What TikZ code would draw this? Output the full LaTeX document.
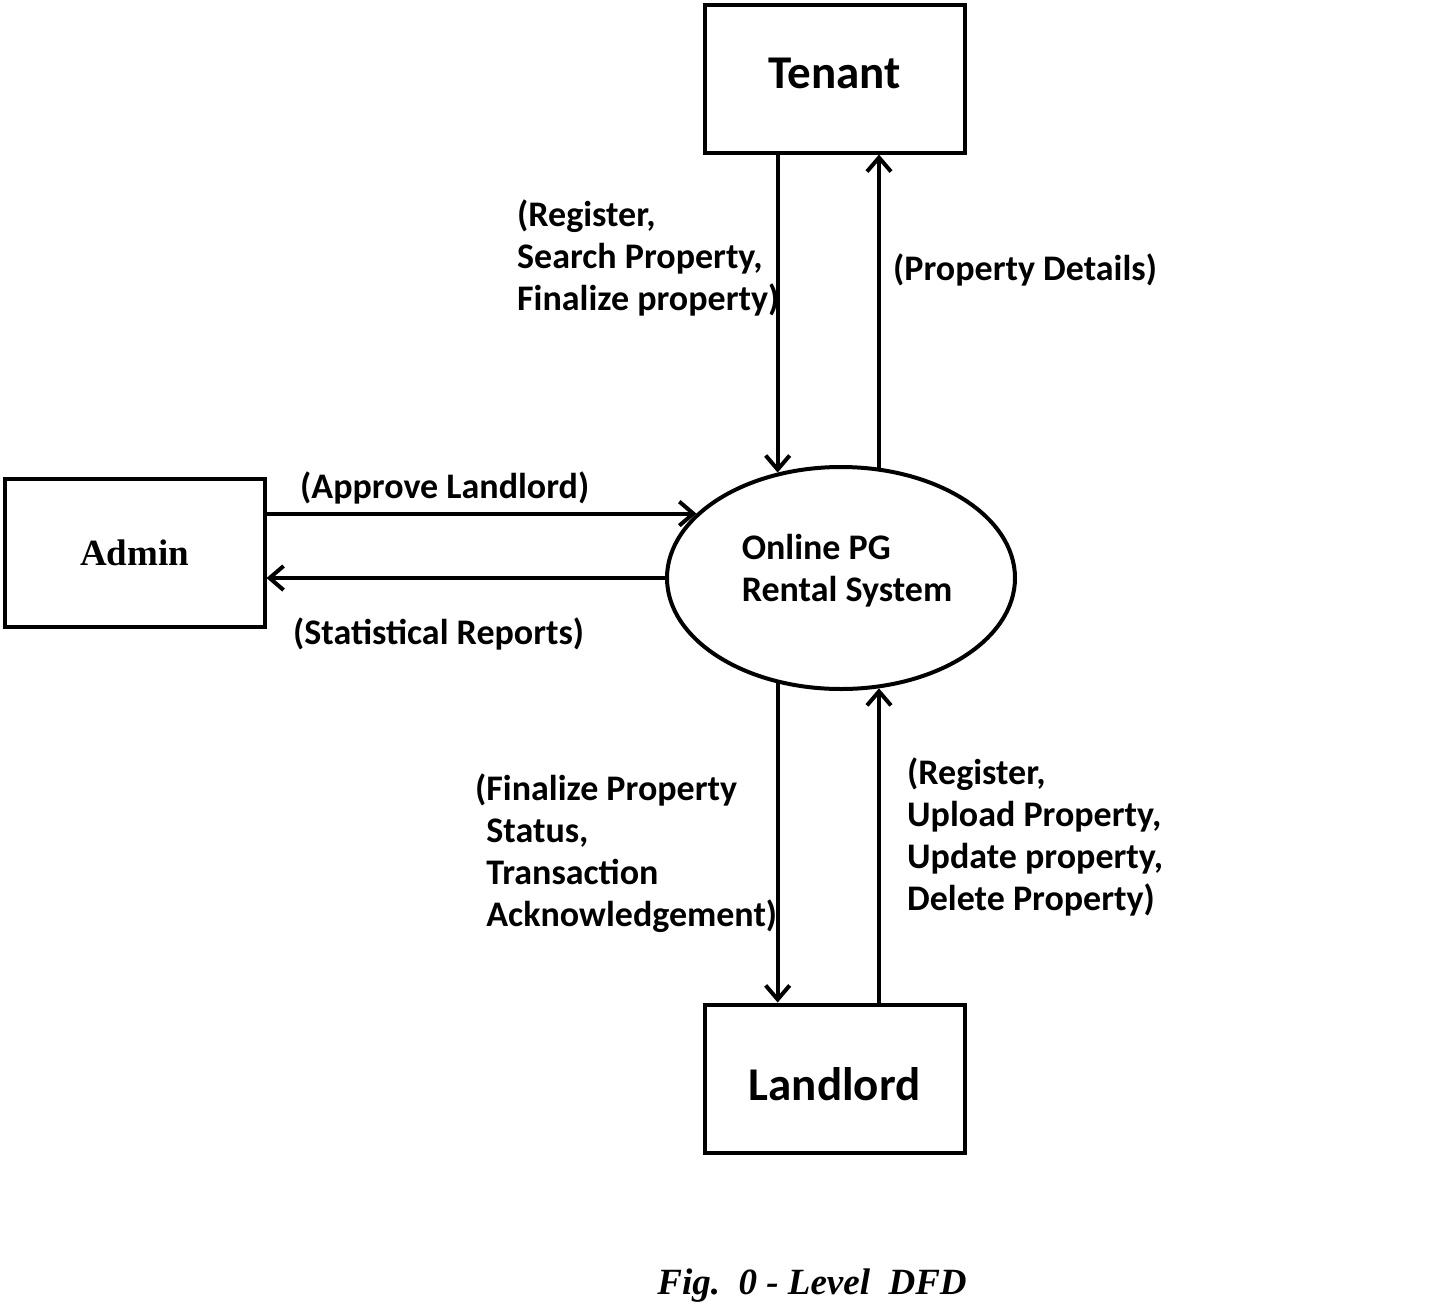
\documentclass[tikz,border=0pt]{standalone}
\usepackage{fontspec}
\setmainfont{Carlito}
\newfontfamily\serifface{Liberation Serif}
\usetikzlibrary{shapes.geometric,arrows.meta}

\begin{document}
\begin{tikzpicture}[x=1pt, y=-1pt,
  entity/.style={draw, line width=4pt, minimum width=260pt, minimum height=148pt, inner sep=0pt},
  process/.style={draw, ellipse, line width=4pt, minimum width=348pt, minimum height=222pt, inner sep=0pt},
  flow/.style={line width=4pt, -{Straight Barb[length=14pt,width=24pt]}},
  flowlabel/.style={anchor=west, align=left, inner sep=0pt, font=\bfseries\fontsize{36}{42}\selectfont}]
\useasboundingbox (0,0) rectangle (1440,1312);

% external entities and the process
\node[entity, font=\bfseries\fontsize{47}{56}\selectfont] (tenant) at (834.5,78.5) {\raisebox{-10pt}[0pt][0pt]{Tenant}};
\node[entity, font=\serifface\bfseries\fontsize{37}{44}\selectfont] (admin) at (134.5,553) {Admin};
\node[entity, font=\bfseries\fontsize{47}{56}\selectfont] (landlord) at (834.5,1078.5) {\raisebox{-22pt}[0pt][0pt]{Landlord}};
\node[process] (sys) at (841,578) {};
\node[flowlabel, anchor=center] (systext) at (847,571) {Online PG\\Rental System};

% data flows
\draw[flow] (tenant.south -| sys.121) -- (sys.121);
\draw[flow] (sys.71) -- (tenant.south -| sys.71);
\draw[flow] (admin.east |- sys.156) -- (sys.156);
\draw[flow] (sys.west) -- (admin.east |- sys.west);
\draw[flow] (sys.-121) -- (landlord.north -| sys.-121);
\draw[flow] (landlord.north -| sys.-71) -- (sys.-71);

% flow labels
\node[flowlabel] (tenantin) at (517,258) {(Register,\\Search Property,\\Finalize property)};
\node[flowlabel] (tenantout) at (893,270) {(Property Details)};
\node[flowlabel] (adminin) at (300,488) {(Approve Landlord)};
\node[flowlabel] (adminout) at (293,634) {(Statistical Reports)};
\node[flowlabel] (landlordout) at (475,853) {(Finalize Property\\\phantom{(}Status,\\\phantom{(}Transaction\\\phantom{(}Acknowledgement)};
\node[flowlabel] (landlordin) at (907,837) {(Register,\\Upload Property,\\Update property,\\Delete Property)};

\node[font=\serifface\bfseries\itshape\fontsize{37}{44}\selectfont] (caption) at (812,1286) {Fig.\ \ 0 - Level\ \ DFD};
\end{tikzpicture}
\end{document}
